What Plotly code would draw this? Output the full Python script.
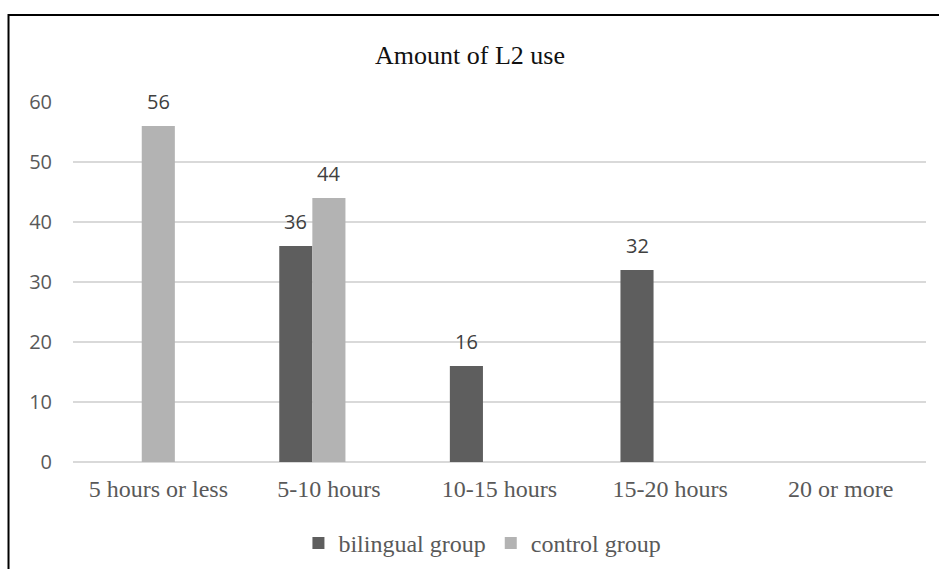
import plotly.graph_objects as go

# Chart data
categories = ["5 hours or less", "5-10 hours", "10-15 hours", "15-20 hours", "20 or more"]
bilingual_group = [None, 36, 16, 32, None]
control_group = [56, 44, None, None, None]
y_ticks = [0, 10, 20, 30, 40, 50, 60]

series = [
    ("bilingual group", bilingual_group, "#5e5e5e"),
    ("control group", control_group, "#b3b3b3"),
]

BAR_W = 0.194          # bar width in category units
OFFSETS = [-0.291, -0.097]  # left edge of each series' bar relative to category centre

SERIF = "Liberation Serif, Times New Roman, serif"
SANS = "Open Sans, Calibri, sans-serif"

fig = go.Figure()
idx = list(range(len(categories)))

for (name, vals, color), off in zip(series, OFFSETS):
    fig.add_trace(go.Bar(
        x=idx, y=vals, name=name,
        width=BAR_W, offset=off,
        marker=dict(color=color, line=dict(width=0)),
    ))

# Value labels above the bars
annotations = []
for (name, vals, color), off in zip(series, OFFSETS):
    for i, v in enumerate(vals):
        if v is None:
            continue
        annotations.append(dict(
            x=i + off + BAR_W / 2, y=v, xref="x", yref="y",
            text=str(v), showarrow=False, yanchor="middle", yshift=25,
            font=dict(family=SANS, size=20, color="#404040"),
        ))

# Title
annotations.append(dict(
    x=0.465, y=1.128, xref="paper", yref="paper",
    text="Amount of L2 use", showarrow=False,
    xanchor="center", yanchor="middle",
    font=dict(family=SERIF, size=26, color="#111111"),
))

fig.update_layout(
    width=939, height=569,
    margin=dict(l=73, r=13, t=102, b=107, autoexpand=False),
    paper_bgcolor="white", plot_bgcolor="white",
    barmode="overlay",
    showlegend=True,
    legend=dict(
        orientation="h", x=0.48, xanchor="center", y=-0.226, yanchor="middle",
        font=dict(family=SERIF, size=24, color="#595959"),
        bgcolor="rgba(0,0,0,0)",
    ),
    annotations=annotations,
    shapes=[dict(
        type="path", xref="paper", yref="paper",
        path="M -0.0756 -0.4 L -0.0756 1.2415 L 1.05 1.2415",
        line=dict(color="#000000", width=2),
    )],
)

fig.update_xaxes(
    range=[-0.5, 4.5], tickvals=idx, ticktext=categories,
    showgrid=False, zeroline=False, showline=False,
    ticks="", ticklabelstandoff=10,
    tickfont=dict(family=SERIF, size=24, color="#595959"),
    fixedrange=True,
)
fig.update_yaxes(
    range=[0, 60], tickvals=y_ticks,
    showgrid=True, gridcolor="#d9d9d9", gridwidth=1.5,
    zeroline=True, zerolinecolor="#d9d9d9", zerolinewidth=1.5,
    showline=False, ticks="", ticklabelstandoff=20,
    tickfont=dict(family=SANS, size=20, color="#595959"),
    fixedrange=True,
)

fig.write_html("out.html")
